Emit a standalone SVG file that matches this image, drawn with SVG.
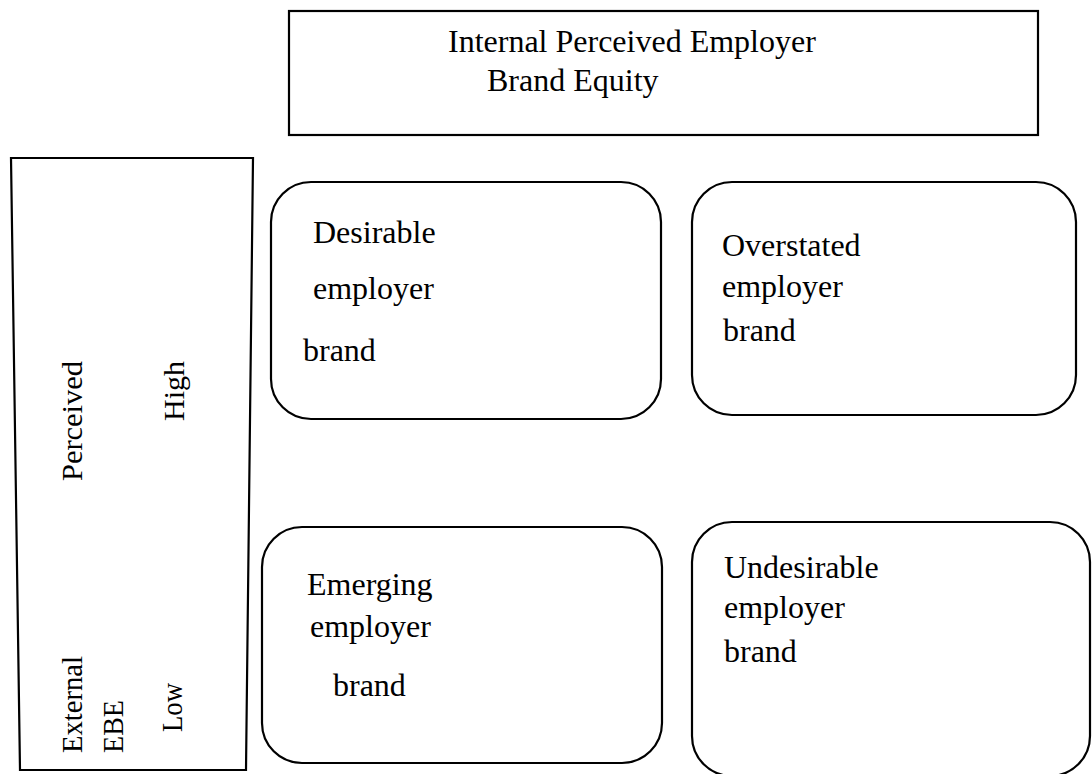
<svg xmlns="http://www.w3.org/2000/svg" width="1092" height="774" viewBox="0 0 1092 774">
<style>
.box{fill:#fff;stroke:#000;stroke-width:2.2}
.t{font-family:"Liberation Serif","Times New Roman",serif;font-size:32px;fill:#000}
.v{font-family:"Liberation Serif","Times New Roman",serif;font-size:30px;fill:#000}
</style>
<rect width="1092" height="774" fill="#fff"/>
<g id="connectors"></g>
<g id="top-axis">
<rect class="box" x="289" y="11" width="749" height="124"/>
<text class="t" x="448" y="52">Internal Perceived Employer</text>
<text class="t" x="487" y="91">Brand Equity</text>
</g>
<g id="left-axis">
<polygon class="box" points="11,158 253,158 246,770 20,770"/>
<text class="v" transform="translate(82,481) rotate(-90)" textLength="120" lengthAdjust="spacingAndGlyphs">Perceived</text>
<text class="v" transform="translate(184,421) rotate(-90)" textLength="60" lengthAdjust="spacingAndGlyphs">High</text>
<text class="v" transform="translate(82,753) rotate(-90)" textLength="97" lengthAdjust="spacingAndGlyphs">External</text>
<text class="v" transform="translate(123,753) rotate(-90)" textLength="53" lengthAdjust="spacingAndGlyphs">EBE</text>
<text class="v" transform="translate(182,732) rotate(-90)" textLength="49" lengthAdjust="spacingAndGlyphs">Low</text>
</g>
<g id="desirable">
<rect class="box" x="271" y="182" width="390" height="237" rx="40" ry="40"/>
<text class="t" x="313" y="243">Desirable</text>
<text class="t" x="313" y="299">employer</text>
<text class="t" x="303" y="361">brand</text>
</g>
<g id="overstated">
<rect class="box" x="692" y="182" width="384" height="233" rx="40" ry="40"/>
<text class="t" x="722" y="256">Overstated</text>
<text class="t" x="722" y="297">employer</text>
<text class="t" x="723" y="341">brand</text>
</g>
<g id="emerging">
<rect class="box" x="262" y="527" width="400" height="236" rx="40" ry="40"/>
<text class="t" x="307" y="595">Emerging</text>
<text class="t" x="310" y="637">employer</text>
<text class="t" x="333" y="696">brand</text>
</g>
<g id="undesirable">
<rect class="box" x="692" y="522" width="398" height="254" rx="40" ry="40"/>
<text class="t" x="724" y="578">Undesirable</text>
<text class="t" x="724" y="618">employer</text>
<text class="t" x="724" y="662">brand</text>
</g>
</svg>
